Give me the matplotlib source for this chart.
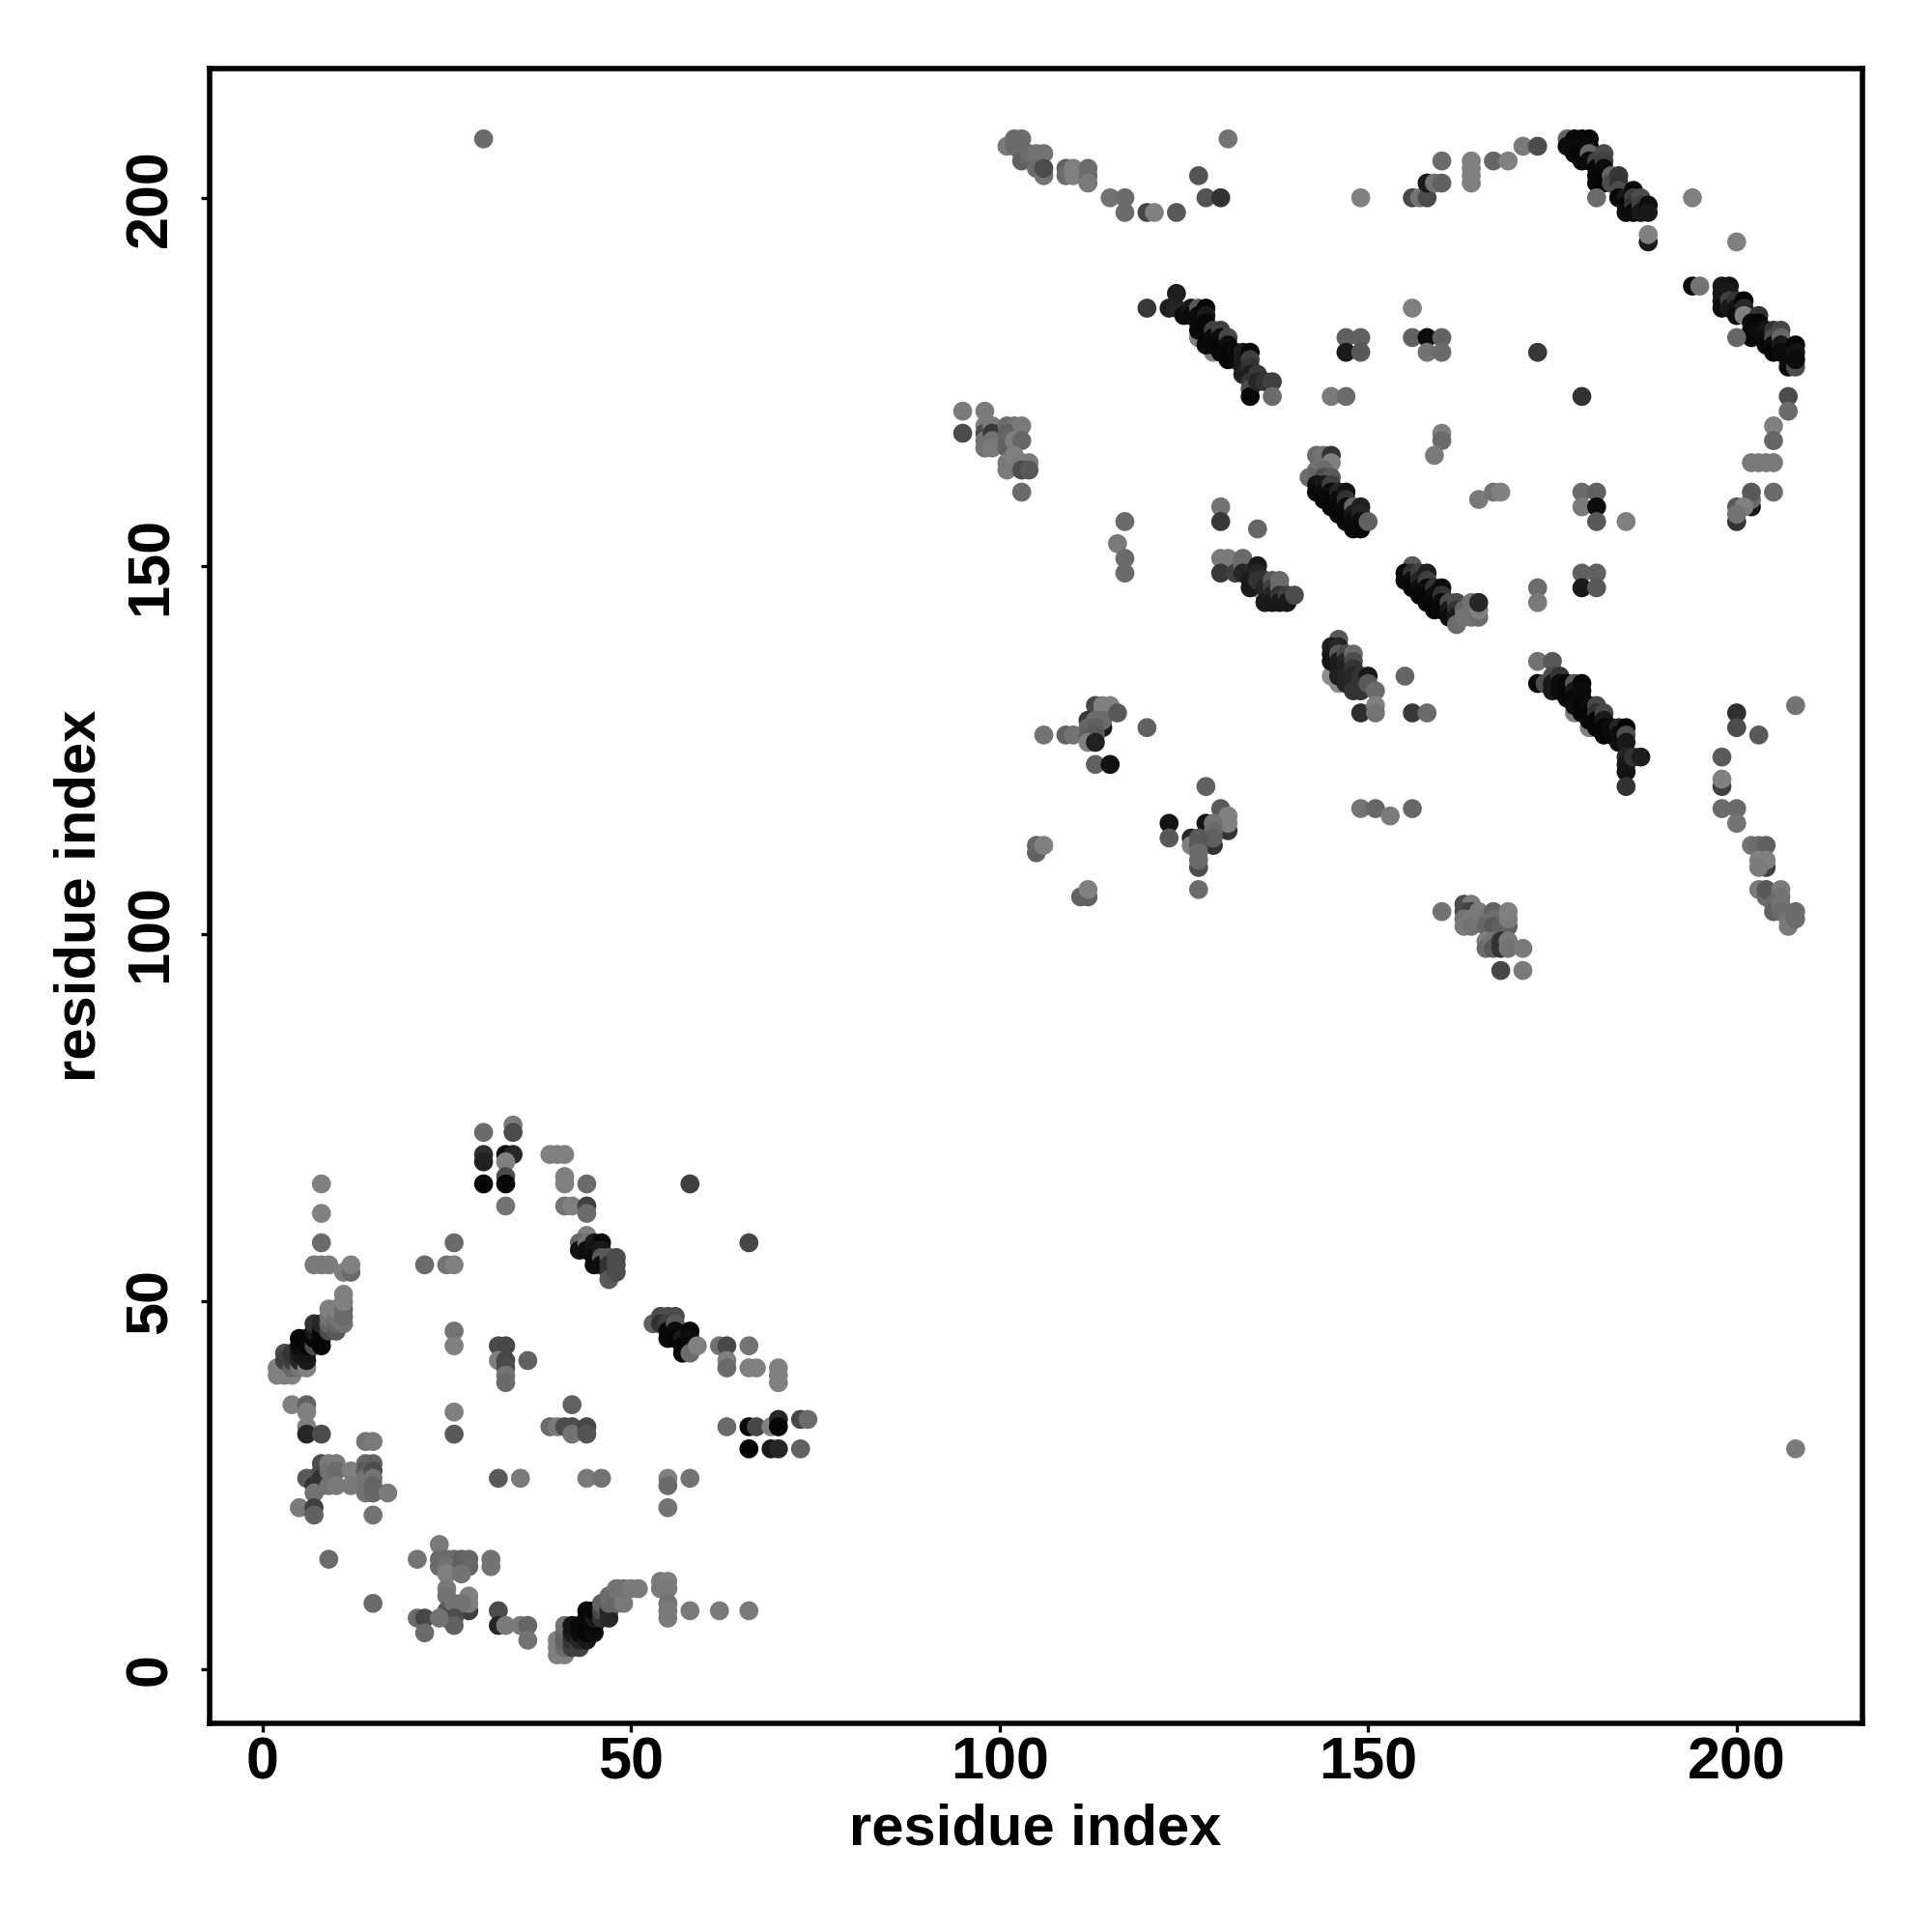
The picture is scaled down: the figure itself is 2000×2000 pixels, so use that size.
import numpy as np
import matplotlib
matplotlib.use('Agg')
import matplotlib.pyplot as plt

plt.rcParams['font.family'] = ['Liberation Sans', 'DejaVu Sans']
plt.rcParams['font.weight'] = 'bold'

# (residue i, residue j, grey level), drawing order kept
strip_low_a = [(2,40,.5),(2,41,.5),(3,40,.5),(3,41,.5),(4,40,.5),(3,43,.3),(3,42,.25),(4,41,.4),(4,42,.25),(4,43,.2),
    (5,41,.45),(5,42,.15),(5,43,.1),(5,44,.05),(5,45,.03),(6,41,.5),(6,42,.1),(6,43,.08),(6,44,.03),(6,45,.03),
    (7,44,.3),(7,45,.03),(7,46,.1),(7,47,.2),(8,44,.02),(8,45,.03),(8,46,.03),(8,47,.15),(9,46,.3),(9,47,.4),
    (9,48,.45),(9,49,.5),(10,46,.35),(10,47,.4),(10,48,.45),(10,49,.5),(11,47,.45),(11,48,.42),(11,49,.42),(11,50,.5),(11,51,.5)]
left_low = [(8,66,.5),(8,62,.5),(8,58,.42),(7,55,.48),(8,55,.48),(9,55,.48),(11,54,.5),(12,54,.42),(12,55,.5),
    (4,36,.5),(6,36,.38),(6,35,.5),(6,33,.5),(6,32,.15),(8,32,.3),(14,31,.45),(15,31,.48),
    (6,26,.35),(7,26,.35),(7,25,.2),(8,28,.3),(8,27,.3),(8,26,.2),(8,25,.2),(9,28,.48),(9,27,.45),(9,25,.45),
    (10,28,.48),(10,27,.42),(10,25,.48),(12,27,.5),(12,25,.48),(14,28,.4),(14,27,.35),(14,26,.45),(14,25,.45),(14,24,.45),
    (15,28,.38),(15,27,.3),(15,26,.45),(15,25,.4),(15,24,.4),(17,24,.48),(15,21,.45),(5,22,.48),(7,24,.45),(7,22,.25),(7,21,.38),
    (9,15,.42),(15,9,.42)]
bottom_low = [(21,15,.45),(24,17,.48),(24,15,.42),(25,15,.42),(26,15,.42),(27,15,.38),(28,15,.4),(31,15,.45),
    (24,14,.42),(25,14,.45),(27,14,.38),(28,14,.4),(31,14,.45),(25,13,.5),(27,13,.45),
    (25,11,.48),(25,10,.45),(25,8,.35),(25,7,.3),(28,8,.25),(28,10,.5),(28,9,.5),(26,9,.45),(27,9,.45),(26,7,.3),(26,6,.38),
    (21,7,.42),(22,7,.28),(22,5,.42),(24,7,.45),(32,8,.3),(32,6,.15),(33,6,.48),(35,6,.48),(36,6,.4),(36,4,.45)]
strip_low_b = [(40,2,.5),(40,3,.5),(40,4,.5),(41,2,.5),(41,3,.42),(41,4,.38),(41,5,.4),(41,6,.45),(42,3,.25),(42,4,.2),
    (42,5,.1),(42,6,.08),(43,3,.25),(43,4,.15),(43,5,.05),(43,6,.04),(44,4,.1),(44,5,.03),(44,6,.02),(44,7,.03),(44,8,.02),
    (45,5,.05),(45,6,.03),(45,7,.1),(45,8,.03),(46,7,.2),(46,8,.3),(46,9,.38),(47,7,.15),(47,8,.15),(47,9,.4),(47,10,.42),
    (48,9,.4),(48,10,.4),(48,11,.45),(49,9,.48),(49,11,.45),(50,11,.48),(51,11,.48),(54,11,.48),(54,12,.48),(55,12,.5),(55,11,.48),
    (55,9,.45),(55,8,.48),(55,7,.48),(58,8,.48),(62,8,.48),(66,8,.48)]
top_low = [(30,73,.42),(34,74,.48),(34,73,.3),(30,70,.18),(30,69,.13),(33,70,.05),(34,70,.15),(33,69,.5),(33,67,.3),(33,66,.03),
    (30,66,.03),(33,63,.45),(39,70,.5),(40,70,.5),(41,70,.5),(41,67,.5),(41,66,.5),(44,66,.42),(41,63,.45),(42,63,.5),
    (44,63,.25),(44,62,.42),(58,66,.25)]
strip_low_c = [(44,59,.5),(43,58,.4),(43,57,.07),(44,58,.45),(44,57,.05),(45,58,.1),(46,58,.03),(45,57,.08),(45,56,.05),(45,55,.05),
    (46,57,.1),(46,56,.35),(46,55,.05),(47,56,.35),(47,55,.2),(47,54,.2),(47,53,.35),(48,56,.3),(48,55,.3),(48,54,.3)]
mid_low = [(26,58,.42),(22,55,.42),(25,55,.45),(26,55,.5),(26,46,.45),(26,44,.5),(32,44,.3),(33,44,.28),(32,42,.5),(33,42,.28),
    (33,41,.3),(33,40,.45),(33,39,.42),(36,42,.38),(26,35,.5),(26,32,.35),(42,36,.38),(39,33,.42),(40,33,.48),(41,33,.3),
    (42,33,.3),(42,32,.45),(44,33,.28),(44,32,.33),(32,26,.35),(35,26,.48),(44,26,.48),(46,26,.45),(55,26,.5),(55,25,.42),
    (55,22,.45),(58,26,.45)]
strip_low_d = [(53,47,.38),(54,48,.3),(55,48,.3),(56,48,.3),(54,47,.2),(55,47,.25),(55,46,.03),(55,45,.03),(56,47,.35),(56,46,.05),(56,45,.03),
    (57,45,.1),(57,44,.03),(57,43,.03),(58,46,.03),(58,45,.05),(58,43,.42),(59,44,.5)]
right_low = [(62,44,.45),(63,44,.28),(66,44,.45),(63,42,.5),(63,41,.42),(66,41,.5),(67,41,.5),(70,41,.5),(70,40,.5),(70,39,.5),
    (66,58,.28),(63,33,.42),(66,33,.03),(67,33,.28),(69,33,.5),(70,34,.15),(70,33,.03),(73,34,.28),(74,34,.42),(66,30,.02),
    (69,30,.1),(70,30,.15),(73,30,.38),(208,30,.48)]

arc_top_left = [(30,208,.42),(131,208,.45),(101,207,.48),(102,208,.42),(103,208,.42),(102,207,.42),(103,206,.42),(103,205,.38),(104,206,.42),
    (105,206,.45),(106,206,.45),(105,204,.42),(106,203,.45),(106,204,.3),(109,204,.38),(109,203,.42),(110,204,.5),(110,203,.5),
    (112,204,.42),(112,203,.42),(112,202,.48),(115,200,.45),(117,200,.42),(117,198,.42),(120,198,.28),(121,198,.5),(124,198,.35),
    (127,203,.33),(128,200,.33),(130,200,.2)]
strip_up_a = [(127,181,.5),(129,179,.5),(120,185,.22),(123,185,.12),(124,185,.15),(124,187,.12),(125,184,.05),(126,185,.1),(126,184,.05),(127,185,.35),
    (127,184,.05),(127,183,.05),(127,182,.03),(128,185,.03),(128,184,.1),(128,183,.03),(128,182,.03),(128,180,.03),
    (129,182,.25),(129,181,.05),(129,180,.03),(130,182,.25),(130,181,.05),(130,180,.03),(130,179,.03),(131,181,.28),(131,180,.05),
    (131,179,.03),(131,178,.03),(132,179,.05),(132,178,.03),(133,179,.12),(133,178,.1),(133,177,.1),(133,176,.12),(134,179,.03),
    (134,178,.25),(134,177,.2),(134,176,.12),(134,175,.2),(134,174,.3),(134,173,.03),(135,176,.22),(135,175,.15),(136,175,.2),
    (137,175,.25),(137,173,.42)]
block_a = [(95,171,.48),(98,171,.48),(95,168,.3),(98,169,.48),(98,168,.3),(98,167,.45),(98,166,.45),(99,169,.48),(99,168,.22),(99,167,.45),(99,166,.48),
    (101,169,.42),(102,169,.45),(101,168,.38),(103,169,.48),(101,167,.4),(101,166,.38),(102,167,.5),(103,167,.4),(101,164,.48),(101,163,.48),(102,165,.5),
    (103,164,.48),(104,164,.48),(103,163,.3),(104,163,.35),(103,160,.42)]
strip_up_b = [(177,208,.4),(177,207,.05),(178,208,.03),(179,208,.03),(179,207,.03),(178,207,.05),(178,206,.03),(179,206,.03),(179,205,.03),(180,208,.03),
    (180,207,.05),(180,206,.4),(180,205,.05),(181,205,.25),(181,204,.03),(181,203,.03),(181,202,.03),(182,206,.3),(182,205,.25),(182,204,.05),(182,203,.03),(182,202,.02),
    (183,203,.4),(183,202,.3),(184,203,.22),(184,202,.2),(184,201,.3),(184,200,.03),(185,200,.1),(185,199,.03),(185,198,.05),(186,201,.03),
    (186,200,.25),(186,199,.2),(186,198,.05),(187,200,.3),(187,199,.25),(187,198,.1),(188,199,.05),(188,198,.1),(181,200,.42),(188,194,.1),(188,195,.5)]
strip_up_c = [(194,188,.05),(195,188,.45),(198,188,.1),(199,188,.08),(198,187,.1),(198,186,.1),(198,185,.05),(199,187,.1),(199,186,.25),(199,185,.1),
    (200,186,.2),(200,185,.08),(200,184,.05),(201,186,.02),(201,185,.15),(201,184,.5),(203,184,.2),(202,183,.05),(202,182,.03),(202,181,.03),(203,183,.03),
    (203,182,.05),(204,182,.08),(204,181,.05),(204,180,.03),(205,182,.2),(205,181,.3),(205,180,.05),(205,179,.02),(206,182,.28),(206,181,.4),(206,180,.1),(206,179,.05),
    (207,179,.05),(207,178,.04),(207,177,.05),(208,177,.3),(208,180,.03),(208,179,.08),(208,178,.05)]
arc_top_right = [(149,200,.5),(194,200,.5),(200,194,.5),(156,200,.28),(157,200,.45),(158,200,.3),(158,202,.1),(159,202,.45),(160,202,.38),(160,205,.42),
    (164,205,.5),(164,204,.5),(164,203,.5),(164,202,.5),(167,205,.4),(169,205,.5),(171,207,.48),(173,207,.3),
    (200,181,.4),(207,173,.3),(207,171,.42),(205,169,.5),(205,167,.4),(202,164,.48),(203,164,.48),(204,164,.48),(205,164,.48),
    (205,160,.42),(202,158,.1),(202,159,.42),(202,160,.35),(200,158,.35),(201,158,.5),(200,156,.2),(200,157,.45)]
scatter_up = [(147,181,.38),(147,179,.1),(149,181,.38),(149,179,.35),(145,173,.48),(147,173,.42),(156,185,.5),(156,181,.38),(158,181,.05),(160,181,.38),
    (158,179,.45),(160,179,.42),(173,179,.22),(179,173,.2),(160,168,.5),(160,167,.42),(159,165,.48),(165,159,.48),(167,160,.45),(168,160,.5),
    (179,160,.42),(181,160,.38),(179,158,.48),(181,158,.05),(181,156,.35),(185,156,.5),(173,147,.42),(173,145,.48),(179,149,.38),(181,149,.38),
    (179,147,.1),(181,147,.35),(117,156,.42),(116,153,.48),(117,151,.42),(117,149,.42),(130,158,.45),(130,156,.22),(135,155,.4)]
strip_up_d = [(143,165,.42),(144,165,.45),(145,165,.2),(145,164,.5),(143,163,.45),(142,162,.42),(143,162,.4),(144,163,.42),(144,162,.3),(145,162,.35),
    (143,161,.08),(143,160,.03),(144,161,.1),(144,160,.05),(144,159,.03),(145,161,.25),(145,160,.05),(145,159,.03),(145,158,.03),(146,160,.15),(146,159,.05),
    (146,158,.03),(146,157,.03),(147,160,.08),(147,159,.2),(147,158,.05),(147,157,.03),(147,156,.03),(148,158,.4),(148,157,.1),(148,156,.05),(148,155,.03),
    (149,158,.12),(149,157,.15),(149,156,.05),(149,155,.03),(150,156,.38)]
strip_up_e = [(130,151,.48),(131,151,.48),(130,149,.22),(132,149,.25),(133,151,.42),(133,150,.42),(135,147,.5),(136,146,.5),(133,149,.15),(134,149,.15),(134,148,.1),(134,147,.1),
    (135,150,.1),(135,149,.15),(135,148,.2),(136,148,.2),(136,147,.15),(136,145,.1),(137,148,.35),(137,147,.25),(137,146,.15),(137,145,.1),
    (138,148,.42),(138,147,.42),(138,146,.2),(138,145,.1),(139,146,.25),(139,145,.1),(140,146,.3)]
strip_up_f = [(156,150,.35),(155,149,.05),(155,148,.05),(156,149,.2),(156,148,.05),(156,147,.03),(157,149,.25),(157,148,.15),(157,147,.05),(157,146,.03),(158,149,.12),
    (158,148,.25),(158,147,.05),(158,146,.03),(158,145,.03),(159,147,.2),(159,146,.05),(159,145,.03),(159,144,.03),(160,147,.05),(160,146,.2),(160,145,.05),(160,144,.03),
    (161,145,.3),(161,144,.1),(161,143,.05),(162,145,.3),(162,144,.2),(162,143,.1),(162,142,.42),(163,144,.4),(163,143,.45),(164,145,.45),(164,143,.45),
    (165,143,.42),(165,144,.5),(165,145,.15)]
strip_up_g = [(145,135,.55),(146,134,.55),(146,140,.35),(145,139,.12),(145,138,.1),(145,137,.08),(146,139,.15),(146,138,.35),(146,137,.12),(146,136,.1),(146,135,.12),
    (147,138,.3),(147,137,.15),(147,136,.12),(147,135,.15),(147,134,.15),(148,138,.42),(148,137,.3),(148,136,.2),(148,135,.15),(148,134,.15),(148,133,.2),
    (149,135,.2),(149,134,.2),(149,133,.2),(150,135,.1),(150,134,.35),(151,133,.42),(149,130,.18),(151,131,.5),(151,130,.45),(155,135,.4),(156,130,.22),(158,130,.42)]
strip_up_h = [(178,130,.5),(180,128,.5),(173,137,.45),(175,137,.35),(173,134,.03),(174,134,.3),(175,135,.3),(175,134,.1),(175,133,.1),(176,135,.2),(176,134,.05),(176,133,.05),
    (177,134,.03),(177,133,.04),(177,132,.03),(178,134,.35),(178,133,.1),(178,132,.03),(178,131,.05),(179,134,.03),(179,133,.05),(179,132,.04),(179,131,.03),(179,130,.03),
    (180,131,.05),(180,130,.03),(180,129,.03),(181,131,.28),(181,130,.2),(181,129,.03),(181,128,.03),(182,130,.28),(182,129,.1),(182,128,.03),(182,127,.03),
    (183,128,.05),(183,127,.04),(184,128,.15),(184,127,.05),(184,126,.05),(185,128,.02),(185,127,.3),(185,126,.1),(185,124,.15),(185,123,.1),(185,122,.08),
    (186,124,.2),(187,124,.12),(185,120,.2)]
misc_up = [(149,117,.45),(151,117,.4),(153,116,.48),(156,117,.4),(200,130,.18),(200,128,.3),(208,131,.45),(203,127,.35),(198,124,.35),(198,120,.25),(198,121,.5),
    (198,117,.42),(200,117,.42),(200,115,.45)]
cluster_up_a = [(106,127,.45),(109,127,.38),(110,127,.45),(113,131,.28),(114,131,.5),(115,131,.5),(114,130,.5),(114,128,.1),(114,129,.42),(116,130,.35),
    (112,129,.22),(113,129,.42),(112,128,.4),(113,128,.38),(112,127,.38),(113,127,.35),(112,126,.5),(113,126,.13),(120,128,.38),(113,123,.38),(115,123,.07)]
cluster_up_b = [(128,120,.38),(130,117,.35),(131,114,.2),(131,116,.5),(131,115,.5),(123,115,.08),(123,113,.35),(128,115,.08),(129,115,.45),(129,112,.2),(129,114,.42),(129,113,.38),
    (126,113,.15),(126,112,.5),(127,113,.35),(127,112,.35),(127,109,.3),(127,110,.42),(127,111,.42),(127,106,.42),(105,111,.38),(105,112,.4),(106,112,.5),
    (111,105,.38),(112,105,.38),(112,106,.5)]
cluster_up_c = [(160,103,.45),(163,104,.3),(164,104,.48),(163,103,.3),(164,103,.25),(163,102,.45),(164,102,.48),(163,101,.48),(164,101,.45),(165,103,.48),(166,102,.45),(167,103,.38),
    (166,101,.4),(167,102,.42),(167,101,.35),(168,101,.38),(169,101,.38),(169,102,.48),(169,103,.5),(166,99,.5),(166,98,.42),(167,99,.45),(167,98,.35),(168,99,.2),(168,98,.2),
    (169,99,.48),(169,98,.45),(171,98,.48),(168,95,.28),(171,95,.48)]
cluster_up_d = [(202,112,.45),(203,112,.42),(204,112,.38),(204,109,.25),(203,110,.5),(204,110,.5),(203,109,.48),(203,106,.48),(204,105,.42),(204,106,.35),(206,106,.48),(206,105,.45),
    (205,104,.42),(205,103,.38),(206,104,.45),(206,103,.42),(207,102,.45),(207,101,.48),(208,103,.42),(208,102,.42)]

clusters = [strip_low_a, left_low, bottom_low, strip_low_b, top_low, strip_low_c, mid_low, strip_low_d, right_low,
            arc_top_left, block_a, strip_up_a, strip_up_b, strip_up_c, arc_top_right, scatter_up, strip_up_d, strip_up_e,
            strip_up_f, strip_up_g, strip_up_h, misc_up, cluster_up_a, cluster_up_b, cluster_up_c, cluster_up_d]

fig = plt.figure(figsize=(10, 10), dpi=200)
ax = fig.add_axes([216.6/2000, 1-1784/2000, (1927.5-216.6)/2000, (1784-71.4)/2000])

for c in clusters:
    d = np.array(c)
    ax.scatter(d[:, 0], d[:, 1], c=d[:, 2], cmap='gray', vmin=0, vmax=1, s=50, linewidths=0, zorder=3)

ax.set_xlim(-7.22, 217.0)
ax.set_ylim(-7.3, 217.5)
ax.set_xticks([0, 50, 100, 150, 200])
ax.set_yticks([0, 50, 100, 150, 200])
ax.tick_params(axis='both', width=1.2, length=3.2, labelsize=22)
ax.tick_params(axis='x', pad=1.5)
ax.tick_params(axis='y', pad=8)
plt.setp(ax.get_yticklabels(), rotation=90, va='center')
for s in ax.spines.values():
    s.set_linewidth(2.0)
ax.set_xlabel('residue index', fontsize=21.5, fontweight='bold', labelpad=4.5)
ax.set_ylabel('residue index', fontsize=21.5, fontweight='bold', labelpad=6.5)

fig.savefig('out.png', dpi=200, facecolor='white')
